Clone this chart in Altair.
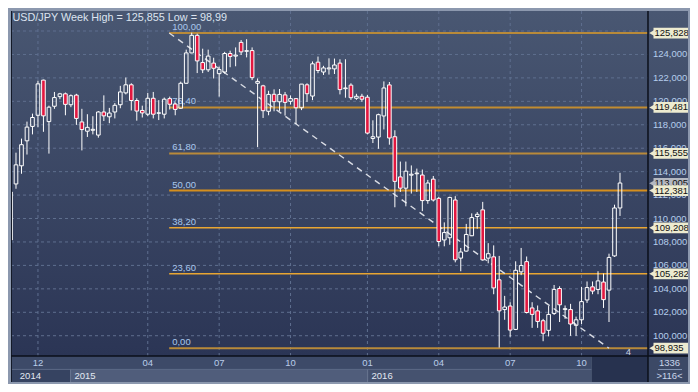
import altair as alt
import pandas as pd

# ---------------- data ----------------
opens = [108.17, 112.95, 114.50, 116.63, 117.86, 118.81, 121.81, 118.27, 119.58, 120.40,
         120.64, 119.71, 120.53, 118.24, 117.45, 117.53, 117.12, 119.09, 118.68, 119.09,
         119.71, 120.72, 121.41, 120.07, 119.22, 118.90, 120.26, 118.98, 118.90, 120.23,
         119.77, 119.41, 121.54, 124.13, 125.63, 123.31, 122.69, 123.26, 122.36, 122.50,
         124.08, 123.86, 125.03, 124.27, 124.33, 121.54, 121.32, 119.15, 120.60, 119.96,
         120.55, 120.00, 120.23, 119.45, 121.41, 120.45, 123.34, 122.50, 122.77, 122.77,
         123.26, 121.08, 121.38, 120.26, 120.43, 120.35, 116.83, 116.95, 118.75, 121.40,
         116.98, 113.55, 112.59, 113.70, 113.82, 113.71, 111.53, 113.36, 111.72, 108.17,
         108.36, 111.58, 106.62, 107.22, 108.53, 110.17, 110.74, 106.62, 106.73, 104.77,
         102.23, 102.53, 100.54, 105.45, 106.32, 102.37, 102.12, 101.28, 100.46, 101.90,
         104.03, 102.23, 102.23, 100.89, 101.36, 103.05, 104.17, 103.95, 104.58, 103.89,
         106.81, 110.90]
highs = [112.50, 115.62, 116.82, 118.27, 118.95, 121.76, 121.85, 119.63, 120.80, 120.72,
         120.75, 120.59, 120.64, 119.36, 118.90, 118.73, 119.17, 120.51, 119.44, 119.85,
         121.32, 122.03, 121.54, 120.26, 119.63, 120.72, 120.80, 120.10, 120.32, 120.40,
         119.90, 121.68, 124.41, 125.86, 125.77, 124.49, 124.41, 123.72, 122.96, 124.22,
         124.32, 124.60, 125.23, 125.30, 124.60, 121.95, 121.41, 120.90, 121.02, 121.05,
         120.80, 120.50, 120.26, 121.48, 121.54, 123.40, 123.82, 123.03, 123.67, 123.65,
         123.59, 123.59, 121.54, 120.64, 120.64, 120.55, 118.38, 118.95, 121.70, 121.65,
         117.53, 114.86, 114.86, 114.53, 114.26, 114.18, 113.30, 113.63, 111.86, 109.67,
         111.86, 111.91, 107.49, 109.54, 110.44, 110.55, 111.42, 107.90, 107.71, 106.81,
         103.40, 102.86, 106.35, 107.49, 106.76, 102.86, 102.58, 101.44, 102.53, 104.33,
         104.22, 102.58, 102.72, 101.63, 104.17, 104.63, 104.63, 105.50, 105.31, 107.00,
         111.18, 113.90]
lows = [107.90, 112.54, 113.82, 115.46, 117.18, 117.80, 117.40, 115.54, 119.36, 120.18,
        118.81, 119.50, 117.99, 115.81, 116.96, 117.18, 116.90, 118.32, 118.13, 118.54,
        119.41, 120.59, 119.22, 118.35, 118.62, 118.73, 118.54, 118.40, 118.54, 119.30,
        118.81, 119.35, 121.50, 124.10, 122.41, 122.41, 122.50, 121.95, 120.40, 122.36,
        122.91, 122.99, 123.95, 123.75, 121.81, 116.09, 118.58, 118.81, 119.15, 119.18,
        118.78, 119.72, 118.06, 119.25, 119.95, 120.10, 122.40, 122.25, 122.28, 122.33,
        120.59, 120.31, 120.12, 120.13, 119.96, 117.18, 116.44, 115.95, 117.60, 116.30,
        110.96, 112.27, 111.04, 112.13, 112.27, 110.63, 111.26, 111.45, 107.63, 107.63,
        107.76, 106.26, 105.50, 107.17, 108.50, 109.13, 106.40, 106.18, 103.54, 98.99,
        101.36, 99.91, 100.48, 105.17, 101.90, 100.67, 100.67, 99.53, 99.94, 101.77,
        101.17, 101.44, 99.99, 99.99, 101.00, 102.80, 103.54, 103.54, 102.37, 101.17,
        106.73, 110.22]
closes = [112.26, 114.58, 116.30, 117.80, 118.62, 121.49, 118.76, 119.50, 120.32, 120.64,
          119.74, 120.48, 118.54, 117.59, 117.78, 117.61, 119.09, 118.76, 119.00, 119.66,
          120.80, 121.41, 120.07, 119.17, 119.01, 120.26, 118.90, 119.02, 120.18, 119.75,
          119.31, 121.54, 124.13, 125.63, 123.45, 122.69, 123.86, 122.82, 122.71, 124.08,
          123.83, 123.94, 124.22, 124.32, 122.02, 121.70, 119.20, 120.59, 119.97, 120.59,
          119.91, 120.23, 119.45, 121.47, 120.65, 123.20, 122.63, 122.85, 122.85, 123.10,
          121.00, 121.14, 120.31, 120.43, 120.18, 117.29, 116.98, 118.86, 121.14, 116.87,
          113.17, 112.59, 114.04, 113.78, 113.88, 111.53, 113.03, 111.58, 108.04, 108.80,
          111.80, 106.48, 107.14, 108.64, 110.08, 110.36, 106.47, 107.00, 104.08, 102.12,
          102.45, 100.48, 105.58, 105.99, 101.98, 101.82, 101.22, 100.21, 101.82, 103.95,
          102.64, 102.31, 101.00, 101.36, 102.91, 104.11, 103.81, 104.68, 103.08, 106.68,
          110.90, 113.03]

grid_levels = [100, 102, 104, 106, 108, 110, 112, 114, 116, 118, 120, 122, 124, 126]
tick_levels = [100, 102, 104, 106, 108, 110, 112, 114, 116, 118, 120, 122, 124]
tick_labels = ["100,000", "102,000", "104,000", "106,000", "108,000", "110,000", "112,000",
               "114,000", "116,000", "118,000", "120,000", "122,000", "124,000"]

month_pos = [5, 25, 38, 51, 65, 78, 91, 104]          # candle index of first week of month
month_lbl = ["12", "04", "07", "10", "01", "04", "07", "10"]
year_lbl = ["2014", "2015", "2016"]
year_lbl_pos = [1.7, 11.65, 65.75]
year_bounds = [0.09, 10.94, 65.04, 105.8]

fib_pct = ["100,00", "76,40", "61,80", "50,00", "38,20", "23,60", "0,00"]
fib_val = [125.828, 119.481, 115.555, 112.381, 109.208, 105.282, 98.935]
fib_tag = ["125,828", "119,481", "115,555", "112,381", "109,208", "105,282", "98,935"]
fib_col = ["#B88A3A", "#C28C30", "#B98A3A", "#D58F1E", "#E9A632", "#E9A632", "#B88A3A"]
fib_w = [2, 2, 2, 2, 1.4, 1.4, 2]
fib_anchor = [28.9, 109.0]          # candle index of the 100% and 0% anchors
last_price = [113.005]
last_lbl = ["113,005"]

title_txt = "USD/JPY Week High = 125,855 Low = 98,99"

# ---------------- geometry ----------------
W, H = 679, 345
X0, X1 = 0.09, 123.75
PLOT_END = 116.1
xs = alt.Scale(domain=[X0, X1], nice=False, zero=False)
ys = alt.Scale(domain=[98.27, 127.707], nice=False, zero=False)
FONT = "Liberation Sans"
one = pd.DataFrame({"a": [1]})

candles = pd.DataFrame({"i": list(range(len(opens))), "o": opens, "h": highs,
                        "l": lows, "c": closes})


def px_rect(x0, x1, y0, y1, color):
    return alt.Chart(one).mark_rect(fill=color).encode(
        x=alt.value(x0), x2=alt.value(x1), y=alt.value(y0), y2=alt.value(y1))


def idx_rect(xa, xb, y0, y1, color):
    d = pd.DataFrame({"xa": [xa], "xb": [xb]})
    return alt.Chart(d).mark_rect(fill=color).encode(
        x=alt.X("xa:Q", scale=xs, axis=None), x2="xb:Q",
        y=alt.value(y0), y2=alt.value(y1))


grad = alt.LinearGradient(gradient="linear", x1=0, x2=0, y1=0, y2=1,
                          stops=[alt.GradientStop(offset=0, color="#495772"),
                                 alt.GradientStop(offset=1, color="#2B3555")])
bg = alt.Chart(one).mark_rect(fill=grad).encode(
    x=alt.value(0), x2=alt.value(W), y=alt.value(0), y2=alt.value(H))

R1, R2, R3 = 345, 358.4, 371
bottom = [
    idx_rect(X0, year_bounds[3], R1, R2, "#3D4A68"),
    idx_rect(year_bounds[0], year_bounds[1], R2, R3, "#364361"),
    idx_rect(year_bounds[1], year_bounds[2], R2, R3, "#505D7B"),
    idx_rect(year_bounds[2], year_bounds[3], R2, R3, "#45526F"),
    idx_rect(year_bounds[3], PLOT_END, R1, R3, "#27324F"),
    idx_rect(PLOT_END, X1, R1, R3, "#3C4966"),
]

sep_df = pd.DataFrame({"x": year_bounds[1:3]})
row_sep = alt.Chart(sep_df).mark_rule(color="#67748F", strokeWidth=1).encode(
    x=alt.X("x:Q", scale=xs, axis=None), y=alt.value(R2), y2=alt.value(R3))
row_line = alt.Chart(pd.DataFrame({"xa": [X0], "xb": [year_bounds[3]]})).mark_rule(
    color="#5A6785", strokeWidth=1).encode(
    x=alt.X("xa:Q", scale=xs, axis=None), x2="xb:Q", y=alt.value(R2))

# grid
hgrid = alt.Chart(pd.DataFrame({"v": grid_levels})).transform_calculate(
    xa=str(X0), xb=str(PLOT_END)).mark_rule(
    color="#5F6F8F", strokeWidth=1, strokeDash=[3, 3]).encode(
    x=alt.X("xa:Q", scale=xs, axis=None), x2="xb:Q",
    y=alt.Y("v:Q", scale=ys, axis=None))
vgrid = alt.Chart(pd.DataFrame({"x": month_pos})).mark_rule(
    color="#5F6F8F", strokeWidth=1, strokeDash=[3, 3]).encode(
    x=alt.X("x:Q", scale=xs, axis=None), y=alt.value(0), y2=alt.value(H))

# fibonacci
fib = pd.DataFrame({"v": fib_val, "pct": fib_pct, "tag": fib_tag, "col": fib_col, "w": fib_w})
fib_lines = alt.Chart(fib).transform_calculate(
    xa=str(fib_anchor[0]), xb=str(PLOT_END)).mark_rule().encode(
    x=alt.X("xa:Q", scale=xs, axis=None), x2="xb:Q",
    y=alt.Y("v:Q", scale=ys, axis=None),
    color=alt.Color("col:N", scale=None),
    size=alt.Size("w:Q", scale=None))
fib_text = alt.Chart(fib).transform_calculate(xa=str(fib_anchor[0])).mark_text(
    align="left", baseline="bottom", dx=3, dy=-1, font=FONT, fontSize=9.5,
    color="#A9C6EC").encode(
    x=alt.X("xa:Q", scale=xs, axis=None), y=alt.Y("v:Q", scale=ys, axis=None),
    text="pct:N")
trend = alt.Chart(pd.DataFrame({"x": fib_anchor, "v": [fib_val[0], fib_val[-1]]})).mark_line(
    color="#D9DCE4", strokeWidth=1.4, strokeDash=[6, 5]).encode(
    x=alt.X("x:Q", scale=xs, axis=None), y=alt.Y("v:Q", scale=ys, axis=None))

# candles
cbase = alt.Chart(candles).transform_calculate(
    top="max(datum.o, datum.c)", bot="min(datum.o, datum.c)",
    xl="datum.i - 0.33", xr="datum.i + 0.33",
    col="datum.c >= datum.o ? 'transparent' : '#E2173F'")
wick_up = cbase.mark_rule(color="white", strokeWidth=1, clip=True).encode(
    x=alt.X("i:Q", scale=xs, axis=None), y=alt.Y("h:Q", scale=ys, axis=None), y2="top:Q")
wick_dn = cbase.mark_rule(color="white", strokeWidth=1, clip=True).encode(
    x=alt.X("i:Q", scale=xs, axis=None), y=alt.Y("l:Q", scale=ys, axis=None), y2="bot:Q")
bodies = cbase.mark_rect(stroke="white", strokeWidth=1, clip=True).encode(
    x=alt.X("xl:Q", scale=xs, axis=None), x2="xr:Q",
    y=alt.Y("top:Q", scale=ys, axis=None), y2="bot:Q",
    fill=alt.Fill("col:N", scale=None))

# right price labels
ticks = alt.Chart(pd.DataFrame({"v": tick_levels, "lbl": tick_labels})).mark_text(
    align="left", baseline="middle", font=FONT, fontSize=9.5, color="#B5CDEC").encode(
    x=alt.value(642), y=alt.Y("v:Q", scale=ys, axis=None), text="lbl:N")


def tags(values, labels, fillc):
    d = pd.DataFrame({"v": values, "lbl": labels})
    base = alt.Chart(d).transform_calculate(lo="datum.v - 0.46", hi="datum.v + 0.46")
    r = base.mark_rect(fill=fillc).encode(
        x=alt.value(642.5), x2=alt.value(677),
        y=alt.Y("lo:Q", scale=ys, axis=None), y2="hi:Q")
    t = base.mark_point(shape="triangle-left", filled=True, size=34, color=fillc,
                        opacity=1).encode(x=alt.value(640.8), y=alt.Y("v:Q", scale=ys, axis=None))
    tx = base.mark_text(align="left", baseline="middle", font=FONT, fontSize=9.5,
                        color="#111111").encode(
        x=alt.value(643.5), y=alt.Y("v:Q", scale=ys, axis=None), text="lbl:N")
    return [r, t, tx]


# frame lines
plot_edge = alt.Chart(pd.DataFrame({"x": [PLOT_END]})).mark_rule(
    color="#0B0F1A", strokeWidth=1.5).encode(
    x=alt.X("x:Q", scale=xs, axis=None), y=alt.value(0), y2=alt.value(R3))
frame = [
    px_rect(-3, 0, 0, 373, "#8C98AE"),
    px_rect(0, 1, 0, R3, "#141A28"),
    px_rect(677, 679, 0, 373, "#8C98AE"),
    plot_edge,
    px_rect(0, 677, R1 - 0.75, R1 + 0.75, "#0B0F1A"),
]

months = alt.Chart(pd.DataFrame({"x": month_pos, "lbl": month_lbl})).mark_text(
    align="center", baseline="middle", font=FONT, fontSize=9.5, color="#B9CDEA").encode(
    x=alt.X("x:Q", scale=xs, axis=None), y=alt.value(352.3), text="lbl:N")
years = alt.Chart(pd.DataFrame({"x": year_lbl_pos, "lbl": year_lbl})).mark_text(
    align="left", baseline="middle", font=FONT, fontSize=9.5, color="#E2E8F2").encode(
    x=alt.X("x:Q", scale=xs, axis=None), y=alt.value(364.5), text="lbl:N")

title = alt.Chart(one).mark_text(align="left", baseline="top", font=FONT, fontSize=10.8,
                                 color="#DCE4F0", text=title_txt).encode(
    x=alt.value(1.5), y=alt.value(1))
count_lbl = alt.Chart(one).mark_text(align="center", baseline="middle", font=FONT,
                                     fontSize=9.5, color="#C9D3E4", text="4").encode(
    x=alt.value(617.5), y=alt.value(341))
corner1 = alt.Chart(one).mark_text(align="center", baseline="middle", font=FONT,
                                   fontSize=9.5, color="#C9D5EA", text="1336").encode(
    x=alt.value(658.5), y=alt.value(352))
corner2 = alt.Chart(one).mark_text(align="center", baseline="middle", font=FONT,
                                   fontSize=9.5, color="#C9D5EA", text=">116<").encode(
    x=alt.value(658.5), y=alt.value(364.6))
corner_line = px_rect(647, 671, 358, 359, "#8393B2")

layers = ([bg] + bottom + [row_line, row_sep, hgrid, vgrid, fib_lines, fib_text, trend,
                           wick_up, wick_dn, bodies, ticks]
          + tags(last_price, last_lbl, "#B4B8C1")
          + tags(fib_val, fib_tag, "#EDEBD0")
          + frame + [months, years, title, count_lbl, corner1, corner2, corner_line])

chart = alt.layer(*layers).properties(
    width=W, height=H,
    padding={"left": 3, "top": 3, "right": 0, "bottom": 28},
    autosize=alt.AutoSizeParams(type="none"),
    background="#8C98AE",
).configure_view(strokeWidth=0)

chart.save("out.html", embed_options={"renderer": "svg", "actions": False})
